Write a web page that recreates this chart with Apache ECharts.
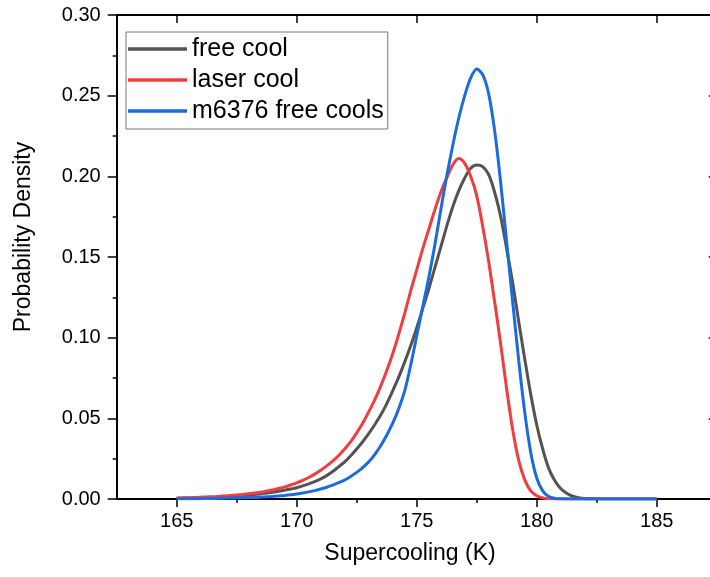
<!DOCTYPE html>
<html>
<head>
<meta charset="utf-8">
<script src="https://cdn.jsdelivr.net/npm/echarts@6/dist/echarts.min.js"></script>
<style>
html,body{margin:0;padding:0;background:#fff;overflow:hidden;width:710px;height:577px;}
#c{width:724px;height:577px;}
</style>
</head>
<body>
<div id="c"></div>
<script>
// Supercooling (K) sample positions
var temps = [
  165,165.25,165.5,165.75,166,166.25,166.5,166.75,167,167.25,167.5,167.75,
  168,168.25,168.5,168.75,169,169.25,169.5,169.75,170,170.25,170.5,170.75,
  171,171.25,171.5,171.75,172,172.25,172.5,172.75,173,173.25,173.5,173.75,
  174,174.25,174.5,174.75,175,175.25,175.5,175.75,176,176.25,176.5,176.75,
  177,177.25,177.5,177.75,178,178.25,178.5,178.75,179,179.25,179.5,179.75,
  180,180.25,180.5,180.75,181,181.25,181.5,181.75,182,182.25,182.5,182.75,
  183,183.25,183.5,183.75,184,184.25,184.5,184.75,185];
// free cool
var freeCool = [
  .0005,.0005,.0006,.0007,.0008,.0009,.0010,.0012,.0014,.0016,.0018,.0021,
  .0024,.0028,.0032,.0037,.0042,.0048,.0055,.0062,.0070,.0081,.0094,.0108,
  .0125,.0145,.0170,.0200,.0230,.0268,.031,.0355,.0405,.046,.052,.059,
  .067,.0755,.085,.095,.106,.118,.130,.143,.156,.169,.181,.191,
  .199,.205,.207,.206,.201,.190,.175,.155,.134,.110,.087,.065,
  .046,.031,.019,.0115,.0065,.0035,.0017,.0008,.0003,.0001,0,0,
  0,0,0,0,0,0,0,0,0];
// laser cool
var laserCool = [
  .0006,.0007,.0008,.0009,.0011,.0013,.0014,.0016,.0019,.0022,.0025,.0028,
  .0032,.0037,.0042,.0049,.0056,.0065,.0075,.0087,.0100,.0115,.0133,.0154,
  .0178,.0205,.0235,.027,.031,.0355,.041,.047,.054,.0615,.070,.0795,
  .090,.102,.115,.129,.142,.155,.167,.179,.190,.199,.207,.211,
  .208,.200,.188,.169,.147,.122,.096,.068,.043,.024,.012,.005,
  .002,.0007,.0002,.0001,0,0,0,0,0,0,0,0,
  0,0,0,0,0,0,0,0,0];
// m6376 free cools
var m6376 = [
  .0001,.0001,.0001,.0002,.0002,.0003,.0003,.0004,.0005,.0006,.0007,.0008,
  .0009,.0010,.0012,.0014,.0016,.0019,.0022,.0026,.0031,.0037,.0044,.0052,
  .0062,.0073,.0086,.0101,.0118,.0140,.0165,.0195,.023,.0275,.033,.0395,
  .047,.056,.067,.083,.101,.119,.137,.157,.179,.200,.219,.236,
  .250,.261,.2665,.263,.251,.228,.196,.159,.122,.086,.054,.029,
  .013,.005,.0015,.0004,.0001,0,0,0,0,0,0,0,
  0,0,0,0,0,0,0,0,0];

var seriesNames = ['free cool','laser cool','m6376 free cools'];
var xMajor = [165,170,175,180,185];
var xMinor = [167.5,172.5,177.5,182.5];

function pairs(vals){ return temps.map(function(t,i){ return [t, vals[i]]; }); }

var FONT = 'Liberation Sans, Arial, sans-serif';
var chart = echarts.init(document.getElementById('c'), null, {renderer:'canvas'});

function xAx(opts){
  return Object.assign({
    type:'value', min:162.5, max:187.5, position:'bottom',
    axisLine:{show:false}, axisLabel:{show:false}, splitLine:{show:false},
    axisTick:{show:false}
  }, opts);
}
function yAx(opts){
  return Object.assign({
    type:'value', min:0, max:0.3, interval:0.05, position:'left',
    axisLine:{show:false}, axisLabel:{show:false}, splitLine:{show:false},
    axisTick:{show:false}
  }, opts);
}

var option = {
  animation:false,
  backgroundColor:'#ffffff',
  grid:{left:116.7, top:15, width:600, height:484, containLabel:false},
  xAxis:[
    xAx({
      position:'bottom',
      axisLine:{show:true, onZero:false, lineStyle:{color:'#000', width:2}},
      axisTick:{show:true, inside:false, length:8, customValues:xMajor, lineStyle:{color:'#000', width:1.5}},
      axisLabel:{show:true, customValues:xMajor, margin:12, fontSize:20, color:'#000', fontFamily:FONT}
    }),
    xAx({
      position:'bottom',
      axisTick:{show:true, inside:false, length:4, customValues:xMinor, lineStyle:{color:'#000', width:1.5}}
    }),
    xAx({
      position:'top',
      axisLine:{show:true, onZero:false, lineStyle:{color:'#000', width:2}},
      axisTick:{show:true, inside:true, length:8, customValues:xMajor, lineStyle:{color:'#000', width:1.5}}
    }),
    xAx({
      position:'top',
      axisTick:{show:true, inside:true, length:4, customValues:xMinor, lineStyle:{color:'#000', width:1.5}}
    })
  ],
  yAxis:[
    yAx({
      position:'left',
      axisLine:{show:true, onZero:false, lineStyle:{color:'#000', width:2}},
      axisTick:{show:true, inside:false, length:9, lineStyle:{color:'#000', width:1.5}},
      minorTick:{show:true, splitNumber:2, length:4, lineStyle:{color:'#000', width:1.5}},
      axisLabel:{show:true, margin:16, fontSize:20, color:'#000', fontFamily:FONT,
        formatter:function(v){ return v.toFixed(2); }}
    }),
    yAx({
      position:'right',
      axisLine:{show:true, onZero:false, lineStyle:{color:'#000', width:2}},
      axisTick:{show:true, inside:true, length:8, lineStyle:{color:'#000', width:1.5}},
      minorTick:{show:true, splitNumber:2, length:4, lineStyle:{color:'#000', width:1.5}}
    })
  ],
  legend:{
    show:true, orient:'vertical', left:126, top:32,
    data:seriesNames,
    icon:'rect', itemWidth:59, itemHeight:3.5, itemGap:6,
    padding:[4.5,4,5.5,2],
    borderColor:'#777', borderWidth:1, backgroundColor:'#fff',
    textStyle:{fontSize:25, color:'#000', fontFamily:FONT}
  },
  graphic:[
    {type:'text', x:24, y:237, rotation:Math.PI/2,
      style:{text:'Probability Density', fontSize:23, fontFamily:FONT, fill:'#000', align:'center', verticalAlign:'middle'}},
    {type:'text', x:410, y:554,
      style:{text:'Supercooling (K)', fontSize:23, fontFamily:FONT, fill:'#000', align:'center', verticalAlign:'middle'}}
  ],
  series:[
    {name:seriesNames[0], type:'line', data:pairs(freeCool), smooth:0.3, showSymbol:false,
      lineStyle:{color:'#535353', width:3}, itemStyle:{color:'#535353'}, z:2},
    {name:seriesNames[1], type:'line', data:pairs(laserCool), smooth:0.3, showSymbol:false,
      lineStyle:{color:'#f23c40', width:3}, itemStyle:{color:'#f23c40'}, z:3},
    {name:seriesNames[2], type:'line', data:pairs(m6376), smooth:0.3, showSymbol:false,
      lineStyle:{color:'#1a6be0', width:3}, itemStyle:{color:'#1a6be0'}, z:4}
  ]
};
chart.setOption(option);
</script>
</body>
</html>
